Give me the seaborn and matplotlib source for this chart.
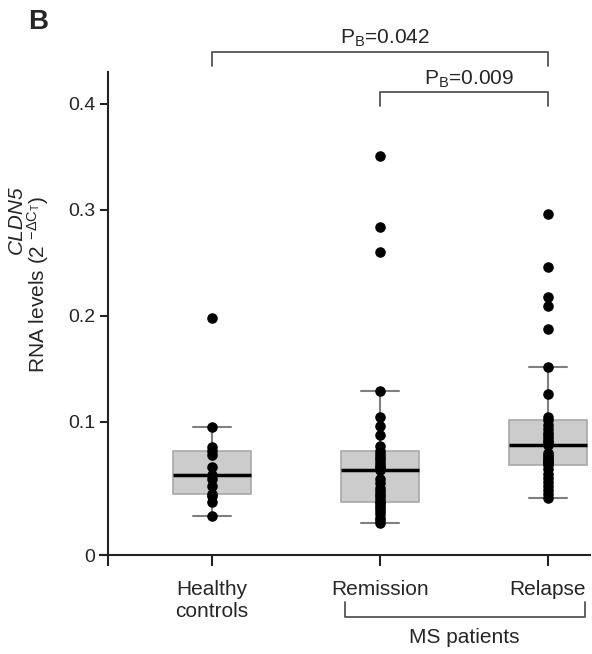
import numpy as np
import pandas as pd
import matplotlib
matplotlib.use("Agg")
import matplotlib.pyplot as plt
import seaborn as sns

# ---------------------------------------------------
# DATA
# ---------------------------------------------------

groups = ["Healthy controls", "Remission", "Relapse"]
tick_labels = ["Healthy\ncontrols", "Remission", "Relapse"]

healthy = [0.029, 0.040, 0.044, 0.046, 0.052, 0.057, 0.060, 0.066,
           0.075, 0.078, 0.081, 0.096, 0.198]

remission = [0.024, 0.026, 0.028, 0.031, 0.033, 0.035, 0.037, 0.039,
             0.040, 0.042, 0.044, 0.046, 0.048, 0.050, 0.054, 0.057,
             0.064, 0.065, 0.066, 0.068, 0.070, 0.072, 0.074, 0.076,
             0.078, 0.082, 0.090, 0.097, 0.105, 0.129, 0.260, 0.284, 0.351]

relapse = [0.043, 0.046, 0.049, 0.052, 0.055, 0.058, 0.061, 0.065,
           0.068, 0.069, 0.070, 0.071, 0.072, 0.074, 0.075, 0.077,
           0.083, 0.085, 0.086, 0.088, 0.090, 0.092, 0.095, 0.098,
           0.102, 0.105, 0.126, 0.152, 0.188, 0.209, 0.218, 0.246, 0.296]

y_ticks = [0, 0.1, 0.2, 0.3, 0.4]
y_tick_labels = ["0", "0.1", "0.2", "0.3", "0.4"]

p_labels = [r"P$_\mathregular{B}$=0.042", r"P$_\mathregular{B}$=0.009"]


# the original axis stretches the 0-0.1 segment
def fwd(v):
    v = np.asarray(v, dtype=float)
    return np.where(v <= 0.1, v * 1.255, 0.1255 + (v - 0.1))


def inv(u):
    u = np.asarray(u, dtype=float)
    return np.where(u <= 0.1255, u / 1.255, u - 0.1255 + 0.1)


def main():
    df = pd.DataFrame({
        "group": [groups[0]] * len(healthy) + [groups[1]] * len(remission)
                 + [groups[2]] * len(relapse),
        "value": healthy + remission + relapse,
    })

    sns.set_style("ticks")
    plt.rcParams["font.family"] = ["Liberation Sans", "DejaVu Sans"]
    plt.rcParams["mathtext.default"] = "regular"

    fig = plt.figure(figsize=(5.92, 6.54), dpi=100)
    ax = fig.add_axes([0.1689, 0.1361, 0.8277, 0.7538])

    sns.boxplot(
        data=df, x="group", y="value", order=groups, ax=ax,
        width=0.46, showfliers=False, color="#cccccc",
        boxprops=dict(facecolor="#cccccc", edgecolor="#a8a8a8", linewidth=1.2),
        whiskerprops=dict(color="#7f7f7f", linewidth=1.5),
        capprops=dict(color="#7f7f7f", linewidth=1.5),
        medianprops=dict(color="black", linewidth=2.5),
    )
    sns.stripplot(
        data=df, x="group", y="value", order=groups, ax=ax,
        jitter=False, color="black", size=7.6, linewidth=0, zorder=5,
    )

    ax.set_yscale("function", functions=(fwd, inv))
    ax.set_ylim(-0.0075, 0.430)
    ax.set_xlim(-0.667, 2.25)
    ax.set_yticks(y_ticks)
    ax.set_yticklabels(y_tick_labels)
    ax.yaxis.set_minor_locator(matplotlib.ticker.NullLocator())
    ax.set_xticks(range(len(groups)))
    ax.set_xticklabels(tick_labels, linespacing=1.25)
    ax.set_xlabel("")
    ax.set_ylabel("RNA levels (2 $^{-ΔC_T}$)", fontsize=15)
    ax.yaxis.set_label_coords(-0.100, 0.57)

    for side in ["top", "right"]:
        ax.spines[side].set_visible(False)
    ax.spines["left"].set_position(("data", -0.619))
    ax.spines["bottom"].set_position(("data", 0))
    for side in ["left", "bottom"]:
        ax.spines[side].set_linewidth(1.5)
        ax.spines[side].set_color("#222222")
    ax.tick_params(axis="y", direction="out", length=6, width=1.5,
                   labelsize=14, pad=3, color="#222222")
    ax.tick_params(axis="x", direction="out", length=8, width=1.5,
                   labelsize=15, pad=10, color="#222222")

    # italic gene name, first line of the y label
    fig.text(0.027, 0.664, "CLDN5", rotation=90, fontsize=15,
             style="italic", ha="center", va="center")

    # significance brackets
    brackets = [(0, 2, 0.449, 0.436), (1, 2, 0.411, 0.398)]
    text_y = [0.462, 0.423]
    for (x0, x1, top, leg), lab, ty in zip(brackets, p_labels, text_y):
        ax.plot([x0, x0, x1, x1], [leg, top, top, leg], color="#555555",
                lw=1.3, clip_on=False)
        ax.text((x0 + x1) / 2 + 0.03, ty, lab, ha="center", va="center",
                fontsize=15)

    # MS patients group bracket below the axis
    trans = ax.get_xaxis_transform()
    ax.plot([0.79, 0.79, 2.22, 2.22], [-0.075, -0.1055, -0.1055, -0.075],
            color="#555555", lw=1.3, clip_on=False, transform=trans)
    ax.text(1.5, -0.148, "MS patients", transform=trans, ha="center",
            va="center", fontsize=15)

    fig.text(0.064, 0.966, "B", fontsize=20, fontweight="bold",
             ha="center", va="center")

    fig.savefig("out.png", dpi=100)


if __name__ == "__main__":
    main()
